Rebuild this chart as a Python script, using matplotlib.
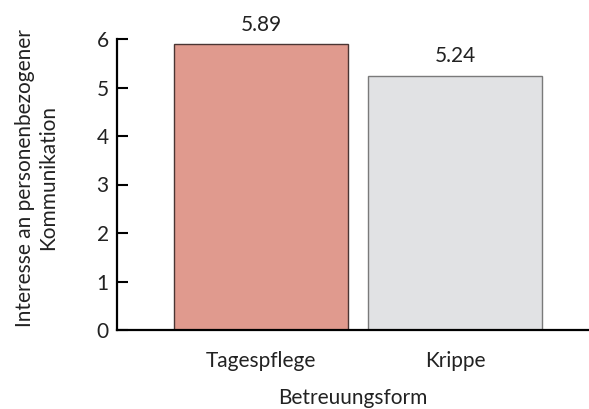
import matplotlib.pyplot as plt

plt.rcParams['font.family'] = ['Lato', 'DejaVu Sans']

categories = ["Tagespflege", "Krippe"]
values = [5.89, 5.24]
value_labels = ["5.89", "5.24"]
yticks = [0, 1, 2, 3, 4, 5, 6]
ylabel_lines = ["Interesse an personenbezogener", "Kommunikation"]

fill_colors = ["#E09A8E", "#E1E2E4"]
edge_colors = ["#4A3533", "#7A7A7A"]
txt = "#222222"

fig = plt.figure(figsize=(5.89, 4.09), dpi=100)
ax = fig.add_axes([117 / 589, 79 / 409, 1 - 117 / 589, 291 / 409])

x = list(range(len(categories)))
bars = ax.bar(x, values, width=0.897, color=fill_colors,
              edgecolor=edge_colors, linewidth=1.0)

for b, lab in zip(bars, value_labels):
    ax.annotate(lab, (b.get_x() + b.get_width() / 2, b.get_height()),
                xytext=(0, 7), textcoords="offset points",
                ha="center", va="bottom", fontsize=15, color=txt)

ax.set_xlim(-0.742, 1.69)
ax.set_ylim(0, 6)
ax.set_yticks(yticks)
ax.set_xticks(x)
ax.set_xticklabels(categories, fontsize=15)

ax.spines["top"].set_visible(False)
ax.spines["right"].set_visible(False)
ax.spines["left"].set_linewidth(1.6)
ax.spines["bottom"].set_linewidth(1.6)

ax.tick_params(axis="y", direction="in", length=8, width=1.5,
               labelsize=15, pad=6, labelcolor=txt)
ax.tick_params(axis="x", length=0, pad=15, labelcolor=txt)

ax.set_xlabel("Betreuungsform", fontsize=15, labelpad=12, color=txt)

# y label as two centred lines
for xpos, line in zip([25, 48], ylabel_lines):
    fig.text(xpos / 589, 1 - 178 / 409, line, rotation=90,
             ha="center", va="center", fontsize=15, color=txt)

plt.savefig("out.png", dpi=100)
